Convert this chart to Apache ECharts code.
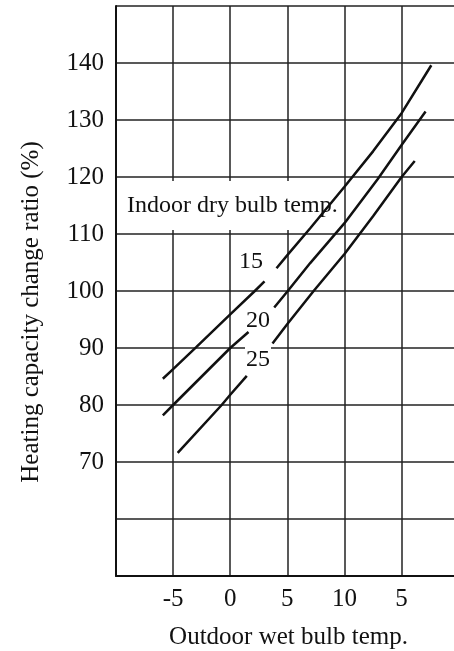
<!DOCTYPE html>
<html>
<head>
<meta charset="utf-8">
<script src="https://cdn.jsdelivr.net/npm/echarts@6/dist/echarts.min.js"></script>
<style>
html, body { margin: 0; padding: 0; background: #fff; }
#main { width: 454px; height: 651px; overflow: hidden; }
</style>
</head>
<body>
<div id="main"></div>
<script>
// curves, each split where its label sits
var curve15a = [[-5.9, 84.6], [-5, 86.3], [-3, 90.1], [0, 95.9], [2.15, 100], [3.0, 101.7]];
var curve15b = [[4.05, 104.0], [5, 106.3], [7, 111], [10, 118.3], [12.5, 124.5], [15, 131.2], [17.6, 139.6]];
var curve20a = [[-5.9, 78.2], [-5, 80], [0, 90], [1.6, 92.8]];
var curve20b = [[3.85, 97.1], [5, 99.9], [7, 104.9], [10, 111.9], [12.9, 119.6], [15, 125.6], [17.1, 131.5]];
var curve25a = [[-4.6, 71.6], [-0.75, 80], [0, 81.8], [1.45, 85.1]];
var curve25b = [[3.7, 90.8], [5, 94.2], [7.3, 100], [10, 106.5], [12.5, 113.1], [15, 120], [16.15, 122.8]];

var curveNames = ['15', '20', '25'];
var xTickValues = [-5, 0, 5, 10, 15];
var xTickLabels = ['-5', '0', '5', '10', '5'];   // last one printed as "5" in the original
var yTickValues = [70, 80, 90, 100, 110, 120, 130, 140];
var yTickLabels = ['70', '80', '90', '100', '110', '120', '130', '140'];

var serif = "'Liberation Serif', 'Times New Roman', serif";
var segments = [curve15a, curve15b, curve20a, curve20b, curve25a, curve25b];

var myChart = echarts.init(document.getElementById('main'));

var series = segments.map(function (seg, i) {
	return {
		name: curveNames[Math.floor(i / 2)],
		type: 'line',
		data: seg,
		symbol: 'none',
		z: 3,
		lineStyle: { color: '#111', width: 2.5 }
	};
});

var option = {
	animation: false,
	backgroundColor: '#fff',
	// plot runs past the right edge, as in the cropped original
	grid: { left: 116, top: 6, width: 345, height: 570, outerBoundsMode: 'none' },
	xAxis: {
		type: 'value',
		min: -10,
		max: 20.2,
		interval: 5,
		name: 'Outdoor wet bulb temp.',
		nameLocation: 'middle',
		nameGap: 49,
		nameTextStyle: { fontFamily: serif, fontSize: 25, color: '#111' },
		axisLine: { show: true, onZero: false, lineStyle: { color: '#111', width: 2 } },
		axisTick: { show: false },
		splitLine: { show: true, lineStyle: { color: '#222', width: 1.5 } },
		axisLabel: {
			fontFamily: serif, fontSize: 25, color: '#111', margin: 11,
			formatter: function (v) {
				var k = xTickValues.indexOf(v);
				return k >= 0 ? xTickLabels[k] : '';
			}
		}
	},
	yAxis: {
		type: 'value',
		min: 50,
		max: 150,
		interval: 10,
		name: 'Heating capacity change ratio (%)',
		nameLocation: 'middle',
		nameGap: 72,
		nameTextStyle: { fontFamily: serif, fontSize: 25, color: '#111', padding: [0, 42, 0, 0] },
		axisLine: { show: true, onZero: false, lineStyle: { color: '#111', width: 2 } },
		axisTick: { show: false },
		splitLine: { show: true, lineStyle: { color: '#222', width: 1.5 } },
		axisLabel: {
			fontFamily: serif, fontSize: 25, color: '#111', margin: 12,
			formatter: function (v) {
				var k = yTickValues.indexOf(v);
				return k >= 0 ? yTickLabels[k] : '';
			}
		}
	},
	graphic: [
		{ type: 'rect', z: 1, shape: { x: 118, y: 181, width: 223, height: 49 }, style: { fill: '#fff' } },
		{ type: 'text', z: 1, left: 127, top: 194,
			style: { text: 'Indoor dry bulb temp.', font: '24px ' + serif, fill: '#111' } },
		{ type: 'text', z: 1, left: 238, top: 249,
			style: { text: curveNames[0], font: '24px ' + serif, fill: '#111', backgroundColor: '#fff', padding: [1, 1] } },
		{ type: 'text', z: 1, left: 245, top: 308,
			style: { text: curveNames[1], font: '24px ' + serif, fill: '#111', backgroundColor: '#fff', padding: [1, 1] } },
		{ type: 'text', z: 1, left: 245, top: 347,
			style: { text: curveNames[2], font: '24px ' + serif, fill: '#111', backgroundColor: '#fff', padding: [1, 1] } }
	],
	series: series
};
myChart.setOption(option);
</script>
</body>
</html>
